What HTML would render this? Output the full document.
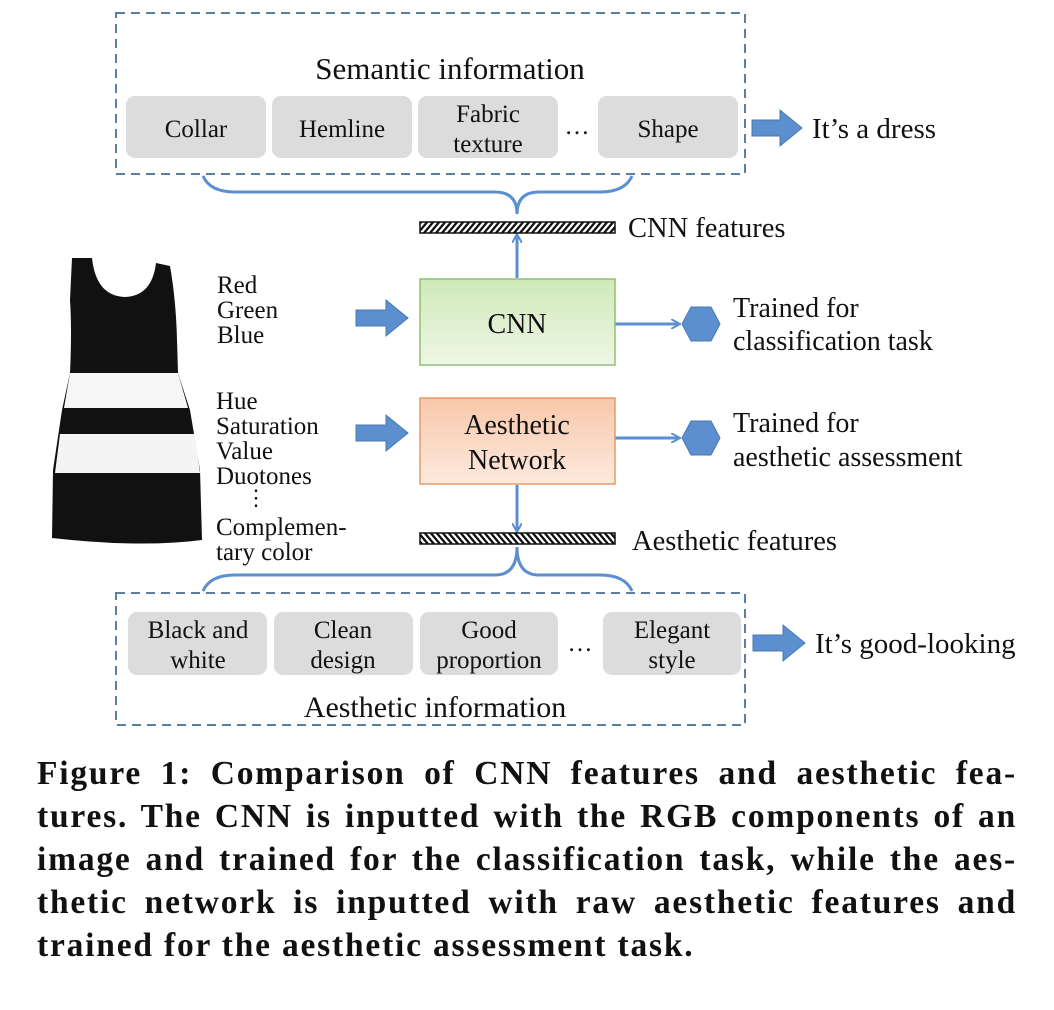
<!DOCTYPE html>
<html><head><meta charset="utf-8"><style>
body{margin:0;background:#fff;width:1054px;height:1010px;overflow:hidden;position:relative;font-family:"Liberation Serif",serif}
svg{position:absolute;left:0;top:0}
.cap{position:absolute;left:37px;top:752px;width:980px;font:bold 33.5px/43px "Liberation Serif",serif;letter-spacing:1.8px;color:#111}
.cap div{text-align:justify;text-align-last:justify;white-space:nowrap}
.cap div.l{text-align-last:left}
</style></head><body>
<svg width="1054" height="750" viewBox="0 0 1054 750">
<defs>
<linearGradient id="g" x1="0" y1="0" x2="0" y2="1"><stop offset="0" stop-color="#cfe8b8"/><stop offset="1" stop-color="#eef7e6"/></linearGradient>
<linearGradient id="o" x1="0" y1="0" x2="0" y2="1"><stop offset="0" stop-color="#f8c8aa"/><stop offset="1" stop-color="#fde9de"/></linearGradient>
<pattern id="h1" width="6" height="12" patternUnits="userSpaceOnUse" patternTransform="skewX(-40)"><rect width="6" height="12" fill="#fff"/><rect width="3" height="12" fill="#111"/></pattern>
<pattern id="h2" width="6" height="12" patternUnits="userSpaceOnUse" patternTransform="skewX(40)"><rect width="6" height="12" fill="#fff"/><rect width="3" height="12" fill="#111"/></pattern>
<marker id="ar" markerWidth="10" markerHeight="10" refX="8" refY="5" orient="auto" markerUnits="userSpaceOnUse"><path d="M0,0 L9,5 L0,10" fill="none" stroke="#5b8fd0" stroke-width="2"/></marker>
</defs>
<g font-family="Liberation Serif" fill="#111">
<rect x="116" y="13" width="629" height="161" fill="none" stroke="#5c7ea3" stroke-width="2" stroke-dasharray="9,6"/>
<text x="450" y="79" font-size="31" text-anchor="middle">Semantic information</text>
<g fill="#dcdcdc">
<rect x="126" y="96" width="140" height="62" rx="9"/><rect x="272" y="96" width="140" height="62" rx="9"/>
<rect x="418" y="96" width="140" height="62" rx="9"/><rect x="598" y="96" width="140" height="62" rx="9"/>
<rect x="128" y="612" width="139" height="63" rx="9"/><rect x="274" y="612" width="139" height="63" rx="9"/>
<rect x="420" y="612" width="138" height="63" rx="9"/><rect x="603" y="612" width="138" height="63" rx="9"/>
</g>
<g font-size="25" text-anchor="middle">
<text x="196" y="137">Collar</text><text x="342" y="137">Hemline</text>
<text x="488" y="122">Fabric</text><text x="488" y="152">texture</text>
<text x="577" y="134">…</text><text x="668" y="137">Shape</text>
<text x="198" y="638">Black and</text><text x="198" y="668">white</text>
<text x="343" y="638">Clean</text><text x="343" y="668">design</text>
<text x="489" y="638">Good</text><text x="489" y="668">proportion</text>
<text x="580" y="651">…</text>
<text x="672" y="638">Elegant</text><text x="672" y="668">style</text>
</g>
<rect x="116" y="593" width="629" height="132" fill="none" stroke="#5c7ea3" stroke-width="2" stroke-dasharray="9,6"/>
<text x="435" y="717" font-size="30" text-anchor="middle">Aesthetic information</text>
<g fill="#5b8fd0" stroke="#4a78b0" stroke-width="1">
<path d="M752,120 h28 v-10 l22,18 l-22,18 v-10 h-28z"/>
<path d="M753,635 h30 v-10 l22,18 l-22,18 v-10 h-30z"/>
<path d="M356,310 h30 v-10 l22,18 l-22,18 v-10 h-30z"/>
<path d="M356,425 h30 v-10 l22,18 l-22,18 v-10 h-30z"/>
<polygon points="682,324 691,307 711,307 720,324 711,341 691,341"/>
<polygon points="682,438 691,421 711,421 720,438 711,455 691,455"/>
</g>
<text x="812" y="138" font-size="29">It’s a dress</text>
<text x="815" y="653" font-size="29">It’s good-looking</text>
<g fill="none" stroke="#5b8fd0" stroke-width="3">
<path d="M203,176 Q210,192 235,192 L495,192 Q517,192 517,214 Q517,192 539,192 L600,192 Q625,192 632,176"/>
<path d="M203,591 Q210,575 235,575 L495,575 Q517,575 517,547 Q517,575 539,575 L600,575 Q625,575 632,591"/>
</g>
<g stroke="#5b8fd0" stroke-width="3" fill="none" marker-end="url(#ar)">
<line x1="517" y1="278" x2="517" y2="235"/>
<line x1="517" y1="485" x2="517" y2="531"/>
<line x1="615" y1="324" x2="679" y2="324"/>
<line x1="615" y1="438" x2="679" y2="438"/>
</g>
<rect x="420" y="222" width="195" height="11" fill="url(#h1)" stroke="#111" stroke-width="1.5"/>
<rect x="420" y="533" width="195" height="11" fill="url(#h2)" stroke="#111" stroke-width="1.5"/>
<text x="628" y="237" font-size="28.5">CNN features</text>
<text x="632" y="550" font-size="28.5">Aesthetic features</text>
<rect x="420" y="279" width="195" height="86" fill="url(#g)" stroke="#8fbf70" stroke-width="1.5"/>
<text x="517" y="333" font-size="28" text-anchor="middle">CNN</text>
<rect x="420" y="398" width="195" height="86" fill="url(#o)" stroke="#e59a68" stroke-width="1.5"/>
<text x="517" y="434" font-size="28" text-anchor="middle">Aesthetic</text>
<text x="517" y="469" font-size="28" text-anchor="middle">Network</text>
<g font-size="28">
<text x="733" y="317">Trained for</text><text x="733" y="350">classification task</text>
<text x="733" y="432">Trained for</text><text x="733" y="466">aesthetic assessment</text>
</g>
<g font-size="25">
<text x="217" y="293">Red</text><text x="217" y="318">Green</text><text x="217" y="343">Blue</text>
<text x="216" y="409">Hue</text><text x="216" y="434">Saturation</text><text x="216" y="459">Value</text><text x="216" y="484">Duotones</text>
<text x="245" y="505" font-size="22">⋮</text>
<text x="216" y="535">Complemen-</text><text x="216" y="560">tary color</text>
</g>
<path d="M72,258 L92,258 Q96,296 125,297 Q152,296 156,263 L170,266 Q176,300 177,340 L178,373 L190,410 L200,470 L202,540 Q140,548 52,538 L53,470 L62,410 L70,373 Q72,330 70,300z" fill="#111"/>
<path d="M70,373 L178,373 L188,408 L64,408z" fill="#f6f6f6"/>
<path d="M60,434 L195,434 L200,473 L55,473z" fill="#f4f4f4"/>
</g>
</svg>
<div class="cap">
<div>Figure 1: Comparison of CNN features and aesthetic fea-</div>
<div>tures. The CNN is inputted with the RGB components of an</div>
<div>image and trained for the classification task, while the aes-</div>
<div>thetic network is inputted with raw aesthetic features and</div>
<div class="l">trained for the aesthetic assessment task.</div>
</div>
</body></html>
